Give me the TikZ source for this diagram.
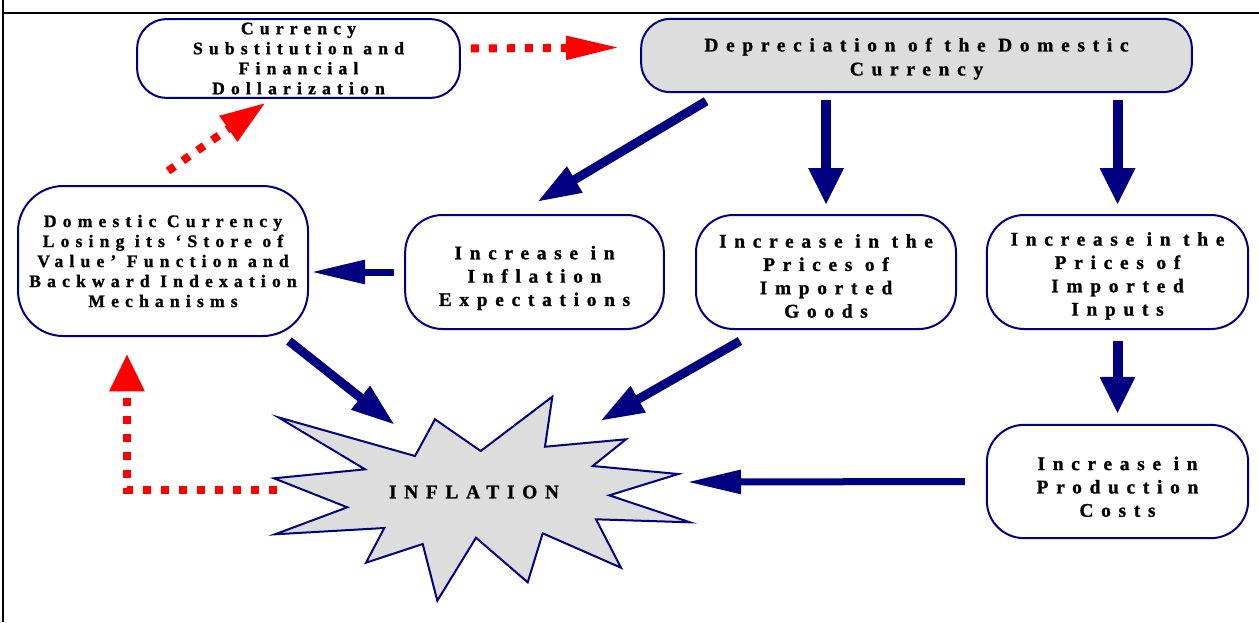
\documentclass[tikz,border=0pt]{standalone}
\usepackage{fontspec}
\setmainfont{Liberation Serif}
\newfontfamily\chartfont[LetterSpace=35,BoldFeatures={FakeBold=1.2}]{Liberation Serif}
\newfontfamily\widefont[LetterSpace=40,BoldFeatures={FakeBold=1.2}]{Liberation Serif}
\usetikzlibrary{arrows.meta,calc}
\definecolor{Navy}{HTML}{000080}
\definecolor{BoxGray}{HTML}{DDDDDD}
\definecolor{Loop}{HTML}{FF0000}
\tikzset{
  box/.style={draw=Navy,line width=1.5pt,rounded corners=22pt,fill=white,align=center,inner sep=0pt,
    font=\widefont\bfseries\fontsize{14.5}{17.5}\selectfont},
  tightbox/.style={box,font=\chartfont\bfseries\fontsize{13.2}{15}\selectfont},
  burst/.style={draw=Navy,line width=1.5pt,fill=BoxGray,line join=miter},
  downarrow/.style={draw=Navy,line width=7.5pt,-{Triangle[length=27.75pt,width=24.75pt]}},
  slantarrow/.style={draw=Navy,line width=6.75pt,-{Triangle[length=33pt,width=21pt]}},
  flatarrow/.style={draw=Navy,line width=5.25pt,-{Triangle[length=40.5pt,width=17pt]}},
  loop/.style={draw=Loop,line width=6pt,dash pattern=on 6pt off 7.5pt},
}
\begin{document}
\begin{tikzpicture}[x=0.75pt,y=-0.75pt]
\useasboundingbox (0,0) rectangle (1259,622);
% frame
\draw[line width=1.5pt] (3,0) -- (3,622);
\draw[line width=1.5pt] (3,13) -- (1259,13);
% boxes
\node[tightbox,minimum width=242pt,minimum height=59pt] (curr) at (298.5,58.5)
  {Currency\\Substitution and\\Financial\\Dollarization};
\node[box,fill=BoxGray,minimum width=413pt,minimum height=55pt,font=\widefont\bfseries\fontsize{14.5}{18}\selectfont] (dep) at (916.5,55.5)
  {\rule{0pt}{15pt}Depreciation of the Domestic\\Currency};
\node[tightbox,rounded corners=34pt,minimum width=217.5pt,minimum height=112.5pt] (dom) at (163,261)
  {Domestic Currency\\Losing its ‘Store of\\Value’ Function and\\Backward Indexation\\Mechanisms};
\node[box,rounded corners=28pt,minimum width=194pt,minimum height=85.5pt] (expect) at (534.5,272)
  {\rule{0pt}{19pt}Increase in\\Inflation\\Expectations};
\node[box,rounded corners=28pt,minimum width=195pt,minimum height=85.5pt] (goods) at (826,272)
  {\rule{0pt}{16pt}Increase in the\\Prices of\\Imported\\Goods};
\node[box,rounded corners=28pt,minimum width=196pt,minimum height=85.5pt] (inputs) at (1117.5,272)
  {\rule{0pt}{16pt}Increase in the\\Prices of\\Imported\\Inputs};
\node[box,rounded corners=28pt,minimum width=196pt,minimum height=85pt] (costs) at (1117.5,481.5)
  {\rule{0pt}{18pt}Increase in\\Production\\Costs};
% inflation burst
\draw[burst] (278.3,417.3) -- (415,456) -- (435,419.3) -- (480.7,451) -- (552.3,396.7)
  -- (545,446.7) -- (626,439.3) -- (592.7,466) -- (678.3,474) -- (609.3,495.3)
  -- (690,522.3) -- (596,519.3) -- (621,567.7) -- (542.7,533.3) -- (527.7,582.3)
  -- (476,537.7) -- (437.3,600.7) -- (422.7,544) -- (366,562.7) -- (384.3,528)
  -- (275,534.3) -- (347.3,507.3) -- (274,478.3) -- (365,469.3) -- cycle;
\node[font=\widefont\bfseries\fontsize{14.5}{16}\selectfont] (infl) at (474,492) {INFLATION};
\coordinate (inflE) at (687,482);
\coordinate (inflNW) at (395,425);
\coordinate (inflNE) at (600,421);
\coordinate (inflW) at (277,490);
% transmission
\draw[slantarrow] ($(dep.south west)+(66,8)$) -- ($(expect.north)+(2.5,-12)$);
\draw[downarrow,shorten <=5.25pt,shorten >=6.75pt] (goods.north |- dep.south) -- (goods.north);
\draw[downarrow,shorten <=5.25pt,shorten >=6.75pt] (inputs.north |- dep.south) -- (inputs.north);
\draw[flatarrow,shorten <=7.5pt,shorten >=1.5pt] (expect.west) -- (expect.west -| dom.east);
\draw[downarrow,shorten <=8.25pt,shorten >=7.5pt] (inputs.south) -- (costs.north);
\draw[flatarrow,shorten <=15.75pt] (costs.west) -- (inflE);
\draw[slantarrow] ($(dom.south east)+(-20,4)$) -- (inflNW);
\draw[slantarrow] ($(goods.south)+(-86,11)$) -- (inflNE);
% feedback loop
\draw[loop,-{Triangle[length=40.5pt,width=16.5pt]}] ($(curr.east)+(10,-10)$) -- ($(dep.west)+(-20,-8)$);
\draw[loop,-{Triangle[length=34pt,width=22pt]}] ($(dom.north)+(5,-14)$) -- ($(curr.south)+(-33,4)$);
\draw[loop,-{Triangle[length=28pt,width=25pt]}] (inflW) -| ($(dom.south)+(-36,17)$);
\end{tikzpicture}
\end{document}
